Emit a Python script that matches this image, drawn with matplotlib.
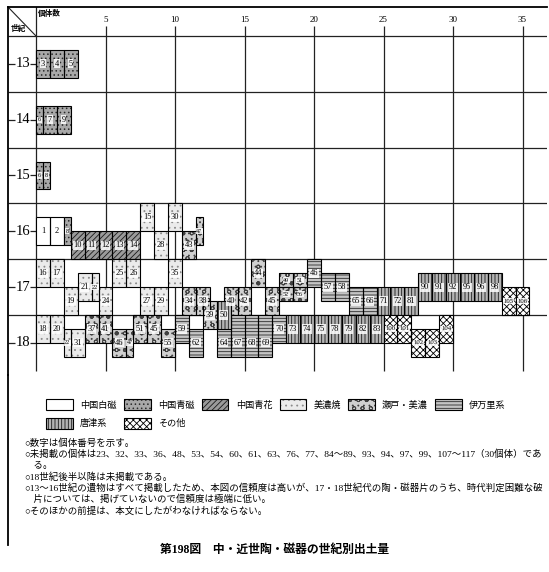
import matplotlib
matplotlib.use('Agg')
import matplotlib.pyplot as plt
from matplotlib.patches import Patch
from matplotlib.lines import Line2D

plt.rcParams['font.family'] = ['Liberation Serif', 'Noto Sans CJK JP']
plt.rcParams['hatch.linewidth'] = 0.6

# 世紀の段と個体数の目盛
centuries = [13, 14, 15, 16, 17, 18]
count_ticks = [5, 10, 15, 20, 25, 30, 35]

# 種類 (W 中国白磁, C 中国青磁, B 中国青花, M 美濃焼, S 瀬戸・美濃, I 伊万里系, K 唐津系, O その他)
kind_codes = ['W', 'C', 'B', 'M', 'S', 'I', 'K', 'O']
kind_names = ['中国白磁', '中国青磁', '中国青花', '美濃焼', '瀬戸・美濃', '伊万里系', '唐津系', 'その他']

# 個体番号
box_ids = ['3', '4', '5',
           '6', '7', '9',
           '6', '8',
           '1', '2', '8', '10', '11', '12', '13', '14', '15', '28', '30', '43', '47',
           '16', '17', '19', '21', '22', '24', '25', '26', '27', '29', '35',
           '34', '38', '40', '42', '44', '45', '49', '51', '52', '56',
           '46', '57', '58', '65', '66', '71', '72', '81',
           '90', '91', '92', '95', '96', '98', '105', '106',
           '18', '20', '22', '31', '37', '41', '46', '47', '51', '45', '55', '59', '62',
           '64', '67', '68', '69', '70', '73', '74', '75', '78', '79', '82', '83',
           '100', '101', '102', '103', '104',
           '39', '50']
box_kind = list('CCC' 'CCC' 'CC'
                'WWCBBBBBMMMSS'
                'MMMMMMMMMMM'
                'SSSSSSSSSS'
                'IIIIIKKK'
                'KKKKKKOO'
                'MMMMSSSSSSSII'
                'IIIIIKKKKKKK'
                'OOOOO'
                'SK')
# 個体数の位置 (左端) と幅
box_x = [0, 1, 2,
         0, 0.5, 1.5,
         0, 0.5,
         0, 1, 2, 2.5, 3.5, 4.5, 5.5, 6.5, 7.5, 8.5, 9.5, 10.5, 11.5,
         0, 1, 2, 3, 4, 4.5, 5.5, 6.5, 7.5, 8.5, 9.5,
         10.5, 11.5, 13.5, 14.5, 15.5, 16.5, 17.5, 18.5, 17.5, 18.5,
         19.5, 20.5, 21.5, 22.5, 23.5, 24.5, 25.5, 26.5,
         27.5, 28.5, 29.5, 30.5, 31.5, 32.5, 33.5, 34.5,
         0, 1, 2, 2.5, 3.5, 4.5, 5.5, 6.5, 7, 8, 9, 10, 11,
         13, 14, 15, 16, 17, 18, 19, 20, 21, 22, 23, 24,
         25, 26, 27, 28, 29,
         12, 13]
box_w = [1, 1, 1,
         0.5, 1, 1,
         0.5, 0.5,
         1, 1, 0.5, 1, 1, 1, 1, 1, 1, 1, 1, 1, 0.5,
         1, 1, 1, 1, 0.5, 1, 1, 1, 1, 1, 1,
         1, 1, 1, 1, 1, 1, 1, 1, 1, 1,
         1, 1, 1, 1, 1, 1, 1, 1,
         1, 1, 1, 1, 1, 1, 1, 1,
         1, 1, 0.5, 1, 1, 1, 1, 0.5, 1, 1, 1, 1, 1,
         1, 1, 1, 1, 1, 1, 1, 1, 1, 1, 1, 1,
         1, 1, 1, 1, 1,
         1, 1]
# 年代の範囲 (世紀)
box_from = [13.25, 13.25, 13.25,
            14.25, 14.25, 14.25,
            15.25, 15.25,
            16.25, 16.25, 16.25, 16.5, 16.5, 16.5, 16.5, 16.5, 16.0, 16.5, 16.0, 16.5, 16.25,
            17.0, 17.0, 17.5, 17.25, 17.25, 17.5, 17.0, 17.0, 17.5, 17.5, 17.0,
            17.5, 17.5, 17.5, 17.5, 17.0, 17.5, 17.25, 17.25, 17.5, 17.5,
            17.0, 17.25, 17.25, 17.5, 17.5, 17.5, 17.5, 17.5,
            17.25, 17.25, 17.25, 17.25, 17.25, 17.25, 17.5, 17.5,
            18.0, 18.0, 18.25, 18.25, 18.0, 18.0, 18.25, 18.25, 18.0, 18.0, 18.25, 18.0, 18.25,
            18.0, 18.0, 18.0, 18.0, 18.0, 18.0, 18.0, 18.0, 18.0, 18.0, 18.0, 18.0,
            18.0, 18.0, 18.25, 18.25, 18.0,
            17.75, 17.75]
box_to = [13.75, 13.75, 13.75,
          14.75, 14.75, 14.75,
          15.75, 15.75,
          16.75, 16.75, 16.75, 17.0, 17.0, 17.0, 17.0, 17.0, 16.5, 17.0, 16.5, 17.0, 16.75,
          17.5, 17.5, 18.0, 17.75, 17.75, 18.0, 17.5, 17.5, 18.0, 18.0, 17.5,
          18.0, 18.0, 18.0, 18.0, 17.5, 18.0, 17.5, 17.5, 17.75, 17.75,
          17.5, 17.75, 17.75, 18.0, 18.0, 18.0, 18.0, 18.0,
          17.75, 17.75, 17.75, 17.75, 17.75, 17.75, 18.0, 18.0,
          18.5, 18.5, 18.75, 18.75, 18.5, 18.5, 18.75, 18.75, 18.5, 18.5, 18.75, 18.5, 18.75,
          18.75, 18.75, 18.75, 18.75, 18.5, 18.5, 18.5, 18.5, 18.5, 18.5, 18.5, 18.5,
          18.5, 18.5, 18.75, 18.75, 18.5,
          18.25, 18.25]

notes = [
    '○数字は個体番号を示す。',
    '○未掲載の個体は23、32、33、36、48、53、54、60、61、63、76、77、84〜89、93、94、97、99、107〜117（30個体）であ',
    '　る。',
    '○18世紀後半以降は未掲載である。',
    '○13〜16世紀の遺物はすべて掲載したため、本図の信頼度は高いが、17・18世紀代の陶・磁器片のうち、時代判定困難な破',
    '　片については、掲げていないので信頼度は極端に低い。',
    '○そのほかの前提は、本文にしたがわなければならない。',
]
caption = '第198図　中・近世陶・磁器の世紀別出土量'

# 模様: 地色, ハッチ, ハッチ色
styles = {
    'W': ('white', None, 'black'),
    'C': ('#a8a8a8', '....', '#2a2a2a'),
    'B': ('#9a9a9a', '//////', '#1a1a1a'),
    'M': ('#ebebeb', '...', '#8a8a8a'),
    'S': ('#d0d0d0', 'oo...', '#404040'),
    'I': ('#c4c4c4', '-----', '#2a2a2a'),
    'K': ('#b4b4b4', '|||||', '#1a1a1a'),
    'O': ('white', 'xxxxx', 'black'),
}

W, H = 549, 572
fig = plt.figure(figsize=(W / 100, H / 100), dpi=100)
ax = fig.add_axes([8 / W, 1 - 375 / H, (547 - 8) / W, (375 - 7) / H])
x_left = (8 - 36) / 13.9
x_right = (547 - 36) / 13.9
ax.set_xlim(x_left, x_right)
ax.set_ylim(13 + (375 - 36) / 55.8, 13 + (7 - 36) / 55.8)
ax.set_xticks([])
ax.set_yticks([])
for s in ['right', 'bottom']:
    ax.spines[s].set_visible(False)
for s in ['top', 'left']:
    ax.spines[s].set_linewidth(1.3)

# 罫線
line_kw = dict(color='#222222', lw=0.9, zorder=1)
ax.hlines(centuries, x_left, x_right, **line_kw)
ax.vlines(0, 12.45, 19.0, **line_kw)
ax.vlines(count_ticks, 12.82, 19.0, **line_kw)
ax.plot([x_left, 0], [ax.get_ylim()[1], 13.0], color='#222222', lw=0.8)
for t in count_ticks:
    ax.text(t, 12.72, str(t), ha='center', va='center', fontsize=6.5)
ax.text(0.15, 12.6, '個体数', ha='left', va='center', fontsize=5.5, fontweight='bold')
ax.text(x_left + 0.2, 12.88, '世紀', ha='left', va='center', fontsize=5.5, fontweight='bold')
for c in centuries:
    ax.text(-0.95, c + 0.5, str(c), ha='center', va='center', fontsize=10.5)
    ax.hlines(c + 0.5, x_left, -1.5, color='#222222', lw=0.9)
    ax.hlines(c + 0.5, -0.4, 0, color='#222222', lw=0.9)

# 個体のます
z = 3
for code in kind_codes:
    idx = [i for i, k in enumerate(box_kind) if k == code]
    if not idx:
        continue
    face, hatch, hcol = styles[code]
    xs = [box_x[i] for i in idx]
    ws = [box_w[i] for i in idx]
    b = [box_from[i] for i in idx]
    h = [box_to[i] - box_from[i] for i in idx]
    ax.bar(xs, h, width=ws, bottom=b, align='edge', color=face,
           edgecolor=hcol, hatch=hatch, lw=0, zorder=z)
    ax.bar(xs, h, width=ws, bottom=b, align='edge', fill=False,
           edgecolor='black', lw=0.8, zorder=z + 0.05)
    z += 0.1

for i, lab in enumerate(box_ids):
    cx = box_x[i] + box_w[i] / 2
    cy = max((box_from[i] + box_to[i]) / 2, box_to[i] - 0.25)
    small = box_w[i] < 1 or box_to[i] - box_from[i] < 0.5
    fs = 4.4 if small else 6
    if len(lab) == 3:
        fs = 4.8
    ax.text(cx, cy, lab, ha='center', va='center', fontsize=fs, zorder=6,
            bbox=dict(fc='white', ec='none', pad=0.4, alpha=0.85))

# 凡例
handles = []
for code in kind_codes:
    face, hatch, hcol = styles[code]
    handles.append((Patch(facecolor=face, edgecolor=hcol, hatch=hatch, lw=0),
                    Patch(fill=False, edgecolor='black', lw=0.8)))
order = [0, 6, 1, 7, 2, 3, 4, 5]
fig.legend([handles[i] for i in order], [kind_names[i] for i in order],
           ncol=6, loc='upper left', bbox_to_anchor=(38 / W, 1 - 391 / H),
           frameon=False, fontsize=6.6, handlelength=2.9, handleheight=1.5,
           handletextpad=0.8, columnspacing=0.8, labelspacing=0.8)

# 左の枠線
fig.add_artist(Line2D([8 / W, 8 / W], [1 - 375 / H, 1 - 545 / H],
                      transform=fig.transFigure, color='black', lw=1.3))

for j, line in enumerate(notes):
    fig.text(24 / W, 1 - (443 + j * 11.3) / H, line, fontsize=6.8, va='center', ha='left')
fig.text(275 / W, 1 - 550 / H, caption, fontsize=8.5, va='center', ha='center',
         fontweight='bold')

fig.savefig('out.png', dpi=100)
